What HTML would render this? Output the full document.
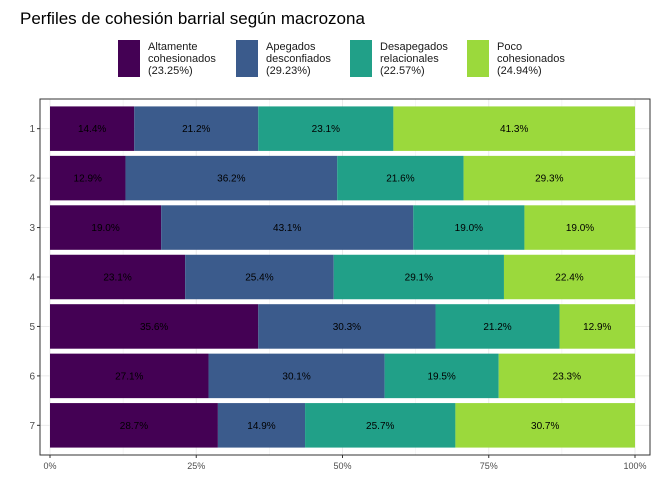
<!DOCTYPE html>
<html><head><meta charset="utf-8"><style>
body{margin:0;background:#fff;font-family:"Liberation Sans",sans-serif}
</style></head><body>
<svg id="c" width="672" height="480" xmlns="http://www.w3.org/2000/svg" style="font-family:'Liberation Sans',sans-serif">
<text x="20" y="24" font-size="17" fill="#000">Perfiles de cohesión barrial según macrozona</text>
<g id="legend"></g>
<g id="plot"></g>
</svg>
<script>
const categories=["1","2","3","4","5","6","7"];
const seriesNames=["Altamente\ncohesionados\n(23.25%)","Apegados\ndesconfiados\n(29.23%)","Desapegados\nrelacionales\n(22.57%)","Poco\ncohesionados\n(24.94%)"];
const altamente=[14.4,12.9,19.0,23.1,35.6,27.1,28.7];
const apegados=[21.2,36.2,43.1,25.4,30.3,30.1,14.9];
const desapegados=[23.1,21.6,19.0,29.1,21.2,19.5,25.7];
const poco=[41.3,29.3,19.0,22.4,12.9,23.3,30.7];
const xTicks=[0,25,50,75,100];
const xTickLabels=["0%","25%","50%","75%","100%"];
const colors=["#440154","#3b5b8c","#21a088","#9bd93c"];
const series=[altamente,apegados,desapegados,poco];
const NS="http://www.w3.org/2000/svg";
const svg=document.getElementById('plot'),leg=document.getElementById('legend');
function mk(tag,attrs,parent){const e=document.createElementNS(NS,tag);for(const k in attrs)e.setAttribute(k,attrs[k]);parent.appendChild(e);return e;}
const L=40,R=650,T=99,B=455,x0=50,x1=635;
const xs=v=>x0+(x1-x0)*v/100;
const step=(B-T)/(categories.length+0.2);
const ys=i=>T+step*(i+0.6);
const bh=step*0.9;
for(let i=0;i<xTicks.length-1;i++){const g=mk('line',{x1:xs(xTicks[i]+12.5),x2:xs(xTicks[i]+12.5),y1:T,y2:B,stroke:"#f0f0f0","stroke-width":0.6},svg);}
xTicks.forEach((t,i)=>{const g=mk('line',{x1:xs(t),x2:xs(t),y1:T,y2:B,stroke:"#ebebeb","stroke-width":1},svg);
const tk=mk('line',{x1:xs(t),x2:xs(t),y1:B,y2:B+3,stroke:"#333"},svg);
const tx=mk('text',{x:xs(t),y:B+14,"font-size":9,fill:"#4d4d4d","text-anchor":"middle"},svg);tx.textContent=xTickLabels[i];});
categories.forEach((c,i)=>{const g=mk('line',{x1:L,x2:R,y1:ys(i),y2:ys(i),stroke:"#ebebeb"},svg);
const tk=mk('line',{x1:L-3,x2:L,y1:ys(i),y2:ys(i),stroke:"#333"},svg);
const tx=mk('text',{x:L-5,y:ys(i)+3.5,"font-size":10,fill:"#4d4d4d","text-anchor":"end"},svg);tx.textContent=c;
let acc=0;series.forEach((s,j)=>{const v=s[i];const r=mk('rect',{x:xs(acc),y:ys(i)-bh/2,width:xs(acc+v)-xs(acc),height:bh,fill:colors[j]},svg);
const t=mk('text',{x:xs(acc+v/2),y:ys(i)+3.5,"font-size":10,fill:"#000","text-anchor":"middle"},svg);t.textContent=v.toFixed(1)+"%";acc+=v;});});
const br=mk('rect',{x:L,y:T,width:R-L,height:B-T,fill:"none",stroke:"#333","stroke-width":1},svg);
const lx=[118,236,350,467];
seriesNames.forEach((n,j)=>{const r=mk('rect',{x:lx[j],y:40,width:22,height:37,fill:colors[j]},leg);
n.split("\n").forEach((ln,k)=>{const t=mk('text',{x:lx[j]+30,y:50+k*12,"font-size":11,fill:"#1a1a1a"},leg);t.textContent=ln;});});
</script>
</body></html>
